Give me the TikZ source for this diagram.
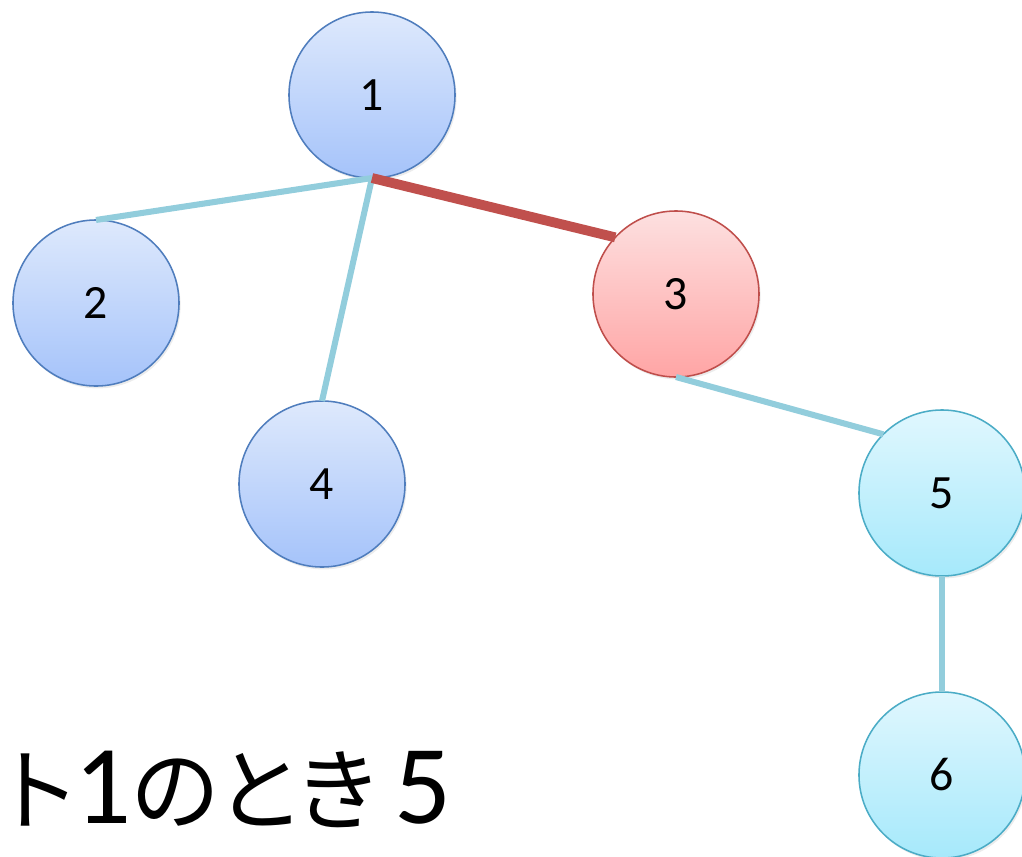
\documentclass[tikz,border=0pt]{standalone}
\usepackage{fontspec}
\setmainfont{Carlito}
\newfontfamily\jpfont[RawFeature=+palt, Scale=0.8]{Noto Sans CJK JP}
\usetikzlibrary{shadows}
\definecolor{blueline}{HTML}{4F7DBD}
\definecolor{redline}{HTML}{BF4E4B}
\definecolor{cyanline}{HTML}{4BACC6}
\definecolor{edgeblue}{HTML}{92CDDC}
\definecolor{edgered}{HTML}{C0504D}

\begin{document}
\begin{tikzpicture}[x=0.025cm, y=-0.025cm,
  vert/.style = {circle, minimum size=4.15cm, inner sep=0pt, outer sep=0pt, line width=1.1pt,
    font=\fontsize{34}{36}\selectfont, drop shadow={opacity=0.15, shadow xshift=0.04cm, shadow yshift=-0.06cm}},
  bluev/.style = {vert, draw=blueline, top color={rgb,255:red,222;green,233;blue,252}, bottom color={rgb,255:red,165;green,195;blue,250}},
  redv/.style = {vert, draw=redline, top color={rgb,255:red,253;green,224;blue,224}, bottom color={rgb,255:red,255;green,165;blue,165}},
  cyanv/.style = {vert, draw=cyanline, top color={rgb,255:red,224;green,247;blue,254}, bottom color={rgb,255:red,166;green,233;blue,251}},
  treeedge/.style = {edgeblue, line width=4.3pt},
  usededge/.style = {edgered, line width=7pt}]
\useasboundingbox (0,0) rectangle (1022,857);
\clip (0,0) rectangle (1022,857);
% vertices
\node[bluev] (n1) at (372,95) {1};
\node[bluev] (n2) at (96,303) {2};
\node[redv] (n3) at (676,294) {3};
\node[bluev] (n4) at (322,484) {4};
\node[cyanv] (n5) at (942,493) {5};
\node[cyanv] (n6) at (942,775) {6};
% edges
\draw[treeedge] (n1.south) -- (n2.north);
\draw[treeedge] (n1.south) -- (n4.north);
\draw[usededge] (n1.south) -- (n3.137);
\draw[treeedge] (n3.south) -- (n5.135);
\draw[treeedge] (n5.south) -- (n6.north);
% caption
\node[anchor=base east, inner sep=0pt, font=\fontsize{80}{88}\selectfont] (cap) at (452,823)
  {{\jpfont ート}1{\jpfont のとき}\kern13pt 5};
\end{tikzpicture}
\end{document}
